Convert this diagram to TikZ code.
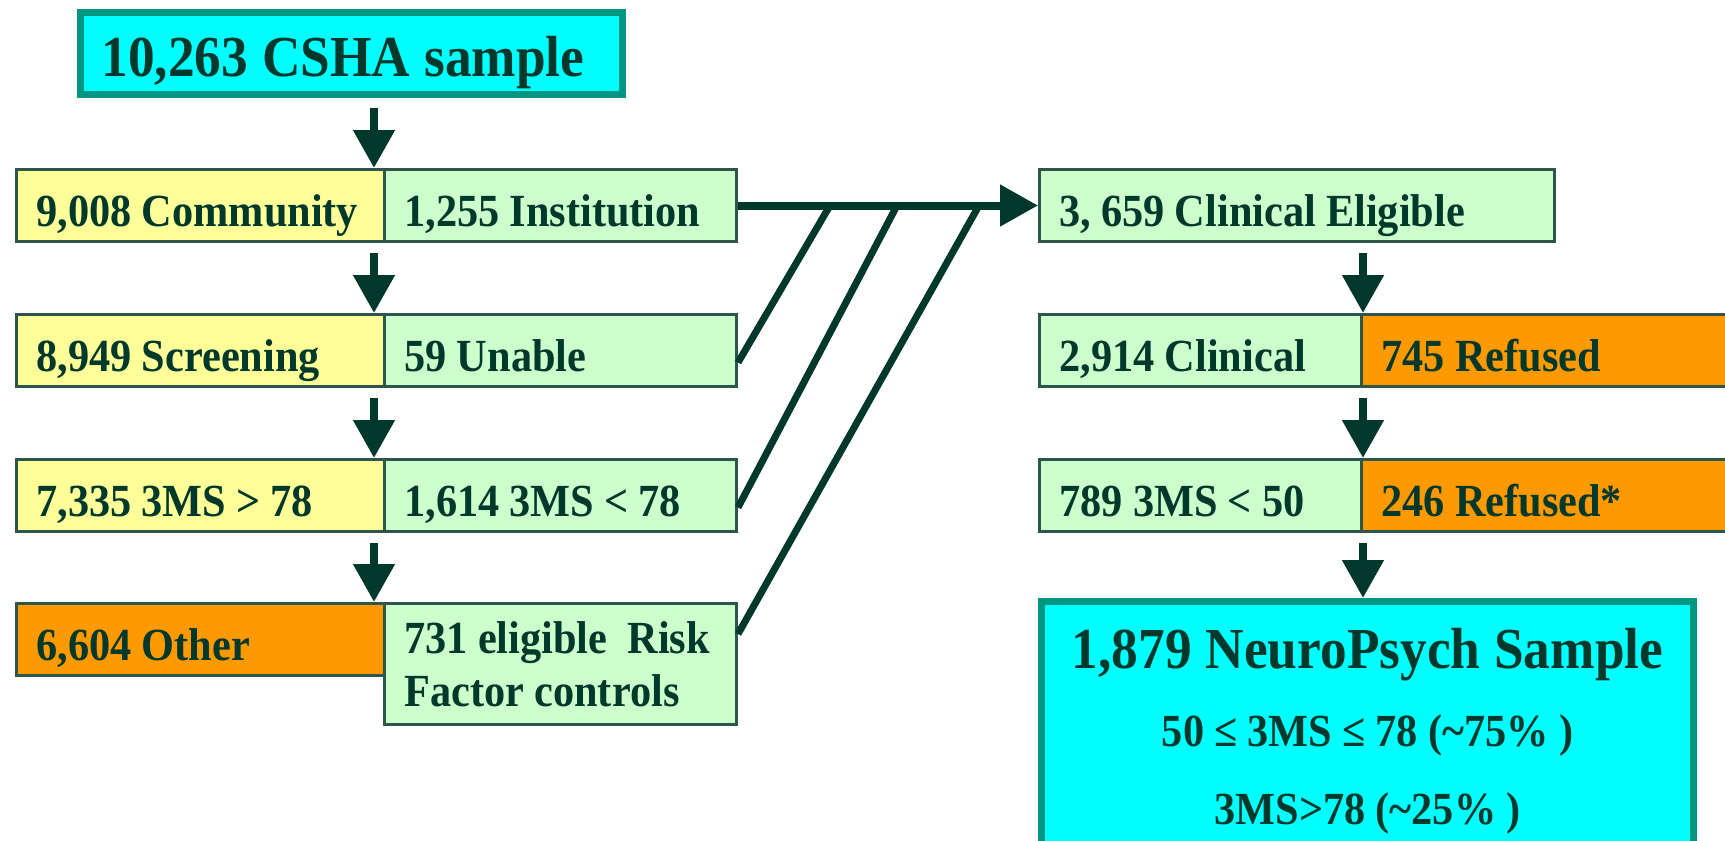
\documentclass[tikz,border=0pt]{standalone}
\usepackage{fontspec}
\setmainfont{Liberation Serif}[FakeStretch=0.92]
\usetikzlibrary{arrows.meta}

\definecolor{ink}{RGB}{0,56,44}
\definecolor{rim}{RGB}{45,85,75}
\definecolor{rimteal}{RGB}{0,150,130}
\definecolor{aqua}{RGB}{0,255,255}
\definecolor{lemon}{RGB}{255,255,153}
\definecolor{mint}{RGB}{204,255,204}
\definecolor{amber}{RGB}{255,153,0}

\newcommand{\boxfont}{\fontsize{46}{53}\selectfont\bfseries\spaceskip=0.22em\relax}
\newcommand{\headfont}{\fontsize{58}{64}\selectfont\bfseries\spaceskip=0.24em\relax}
\newcommand{\notefont}{\fontsize{46}{78}\selectfont\bfseries\spaceskip=0.22em\relax}

\tikzset{
    cell/.style={draw=rim, line width=3pt, text=ink, font=\boxfont, anchor=north west,
        inner xsep=20pt, minimum height=72pt, text width=#1, align=flush left,
        text height=42pt, text depth=0pt},
    big/.style={draw=rimteal, line width=7pt, fill=aqua, text=ink, anchor=north west},
    dedge/.style={-{Triangle[length=38pt,width=40pt]}, line width=8pt, draw=ink},
    link/.style={-, line width=7pt, draw=ink},
}

\begin{document}
\begin{tikzpicture}[x=1pt,y=-1pt]
    \useasboundingbox (0,0) rectangle (1725,841);
    \fill[white] (0,0) rectangle (1725,841);

    \node[big, font=\headfont, text width=500pt, inner xsep=21pt, minimum height=82pt, align=flush left,
        text height=46pt, text depth=0pt] (csha) at (77,9) {10,263 CSHA sample};

    % left column
    \node[cell=328pt, fill=lemon] (comm) at (15,168) {9,008 Community};
    \node[cell=312pt, fill=mint] (inst) at (383,168) {1,255 Institution};
    \node[cell=328pt, fill=lemon] (scr) at (15,313) {8,949 Screening};
    \node[cell=312pt, fill=mint] (unab) at (383,313) {59 Unable};
    \node[cell=328pt, fill=lemon] (high) at (15,458) {7,335 3MS > 78};
    \node[cell=312pt, fill=mint] (low) at (383,458) {1,614 3MS < 78};
    \node[cell=328pt, fill=amber] (other) at (15,602) {6,604 Other};
    \node[cell=312pt, fill=mint, minimum height=121pt, text height=, text depth=] (risk) at (383,602)
        {\mbox{731 eligible\ \ Risk}\\Factor controls};

    % right column
    \node[cell=475pt, fill=mint] (elig) at (1038,168) {3, 659 Clinical Eligible};
    \node[cell=282pt, fill=mint] (clin) at (1038,313) {2,914 Clinical};
    \node[cell=340pt, fill=amber] (ref1) at (1360,313) {745 Refused};
    \node[cell=282pt, fill=mint] (mms) at (1038,458) {789 3MS < 50};
    \node[cell=340pt, fill=amber] (ref2) at (1360,458) {246 Refused*};
    \node[big, text width=632pt, inner xsep=10pt, minimum height=260pt, align=flush center, font=\notefont] (neuro) at (1038,598)
        {{\fontsize{58}{78}\selectfont\spaceskip=0.24em\relax 1,879 NeuroPsych Sample\hspace*{16pt}}\\
         50 ≤ 3MS ≤ 78 (\textasciitilde 75\% )\\
         3MS>78 (\textasciitilde 25\% )};

    \draw[dedge] ([xshift=-12pt,yshift=-10pt]csha.south -| comm.north east) -- ([xshift=-12pt]comm.north east);
    \draw[dedge] ([xshift=-12pt,yshift=-10pt]comm.south east) -- ([xshift=-12pt]scr.north east);
    \draw[dedge] ([xshift=-12pt,yshift=-10pt]scr.south east) -- ([xshift=-12pt]high.north east);
    \draw[dedge] ([xshift=-12pt,yshift=-10pt]high.south east) -- ([xshift=-12pt]other.north east);

    \draw[dedge] ([yshift=-10pt]elig.south -| clin.north east) -- (clin.north east);
    \draw[dedge] ([yshift=-10pt]clin.south east) -- (mms.north east);
    \draw[dedge] ([yshift=-10pt]mms.south east) -- (mms.south east |- neuro.north);

    \coordinate (j1) at ([xshift=92pt]inst.east);
    \coordinate (j2) at ([xshift=159pt]inst.east);
    \coordinate (j3) at ([xshift=241pt]inst.east);
    \draw[dedge] (inst.east) -- (elig.west);
    \draw[link] ([yshift=-12pt]unab.east) -- (j1);
    \draw[link] ([yshift=-12pt]low.east) -- (j2);
    \draw[link] ([yshift=30pt]risk.east) -- (j3);
\end{tikzpicture}
\end{document}
